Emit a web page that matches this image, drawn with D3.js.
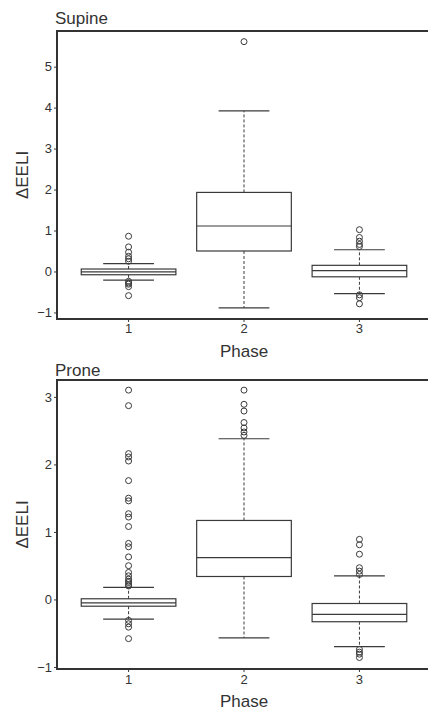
<!DOCTYPE html>
<html>
<head>
<meta charset="utf-8">
<script src="https://cdn.jsdelivr.net/npm/d3@7"></script>
<style>
  body { margin: 0; background: #fff; }
  text { font-family: "Liberation Sans", Arial, sans-serif; fill: #333; }
</style>
</head>
<body>
<svg id="chart" width="428" height="711"></svg>
<script>
const phases = ["1", "2", "3"];
const panelTitles = ["Supine", "Prone"];
const yTicksSupine = [-1, 0, 1, 2, 3, 4, 5];
const yTicksProne = [-1, 0, 1, 2, 3];

// [lowerWhisker, q1, median, q3, upperWhisker]
const supineStats = [
  [-0.21, -0.08, -0.01, 0.06, 0.19],
  [-0.89, 0.50, 1.11, 1.93, 3.92],
  [-0.54, -0.13, 0.02, 0.15, 0.53]
];
const supineOutliers = [
  [0.86, 0.60, 0.47, 0.37, 0.31, 0.25, -0.24, -0.28, -0.31, -0.37, -0.59],
  [5.61],
  [1.02, 0.83, 0.74, 0.66, 0.61, -0.57, -0.64, -0.79]
];
const proneStats = [
  [-0.29, -0.10, -0.05, 0.01, 0.18],
  [-0.57, 0.34, 0.62, 1.17, 2.38],
  [-0.70, -0.33, -0.22, -0.06, 0.35]
];
const proneOutliers = [
  [3.10, 2.87, 2.16, 2.11, 2.05, 1.76, 1.50, 1.46, 1.27, 1.22, 1.08,
   0.83, 0.78, 0.63, 0.50, 0.40, 0.35, 0.30, 0.27, 0.25, 0.22, 0.20,
   -0.31, -0.36, -0.41, -0.58],
  [3.10, 2.89, 2.79, 2.62, 2.54, 2.48, 2.43],
  [0.89, 0.81, 0.67, 0.47, 0.42, 0.37, -0.74, -0.78, -0.81, -0.86]
];

const svg = d3.select("#chart");
const frameLeft = 57, frameRight = 431;

const panels = [
  { title: panelTitles[0], stats: supineStats, outliers: supineOutliers, ticks: yTicksSupine,
    top: 31, bottom: 319, domain: [-1.16, 5.87], titleY: 24, tickLabelY: 333, phaseY: 357 },
  { title: panelTitles[1], stats: proneStats, outliers: proneOutliers, ticks: yTicksProne,
    top: 380, bottom: 669, domain: [-1.03, 3.25], titleY: 376, tickLabelY: 684, phaseY: 707 }
];

const x = d3.scaleLinear().domain([0.38, 3.62]).range([frameLeft, frameRight]);
const boxHalf = 0.41, capHalf = 0.22;
const ink = "#3a3a3a";

panels.forEach(p => {
  const y = d3.scaleLinear().domain(p.domain).range([p.bottom, p.top]);
  const g = svg.append("g");

  // y axis ticks
  const yAxis = d3.axisLeft(y).tickValues(p.ticks).tickSize(3).tickPadding(2).tickFormat(d3.format("d"));
  const ya = g.append("g").attr("transform", `translate(${frameLeft},0)`).call(yAxis);
  ya.select(".domain").remove();
  ya.selectAll("line").attr("stroke", ink).attr("stroke-width", 1);
  ya.selectAll("text").style("font-size", "13px").attr("fill", "#333");

  // x axis ticks
  g.selectAll(".xt").data(phases).join("line")
    .attr("x1", (d, i) => x(i + 1)).attr("x2", (d, i) => x(i + 1))
    .attr("y1", p.bottom).attr("y2", p.bottom + 3)
    .attr("stroke", ink).attr("stroke-width", 1);
  g.selectAll(".xl").data(phases).join("text")
    .attr("x", (d, i) => x(i + 1)).attr("y", p.tickLabelY)
    .attr("text-anchor", "middle").style("font-size", "13px").text(d => d);

  // labels
  g.append("text").attr("x", x(2)).attr("y", p.phaseY).attr("text-anchor", "middle")
    .style("font-size", "17px").text("Phase");
  g.append("text").attr("x", 55).attr("y", p.titleY).style("font-size", "17px").text(p.title);
  const cy = (p.top + p.bottom) / 2;
  g.append("text").attr("transform", `translate(28,${cy}) rotate(-90)`).attr("text-anchor", "middle")
    .style("font-size", "17px").text("ΔEELI");

  // boxes
  p.stats.forEach((s, i) => {
    const cx = x(i + 1);
    const [lw, q1, md, q3, uw] = s;
    // whiskers dashed
    g.append("line").attr("x1", cx).attr("x2", cx).attr("y1", y(q3)).attr("y2", y(uw))
      .attr("stroke", ink).attr("stroke-width", 1).attr("stroke-dasharray", "3,2");
    g.append("line").attr("x1", cx).attr("x2", cx).attr("y1", y(q1)).attr("y2", y(lw))
      .attr("stroke", ink).attr("stroke-width", 1).attr("stroke-dasharray", "3,2");
    // caps
    [lw, uw].forEach(v => {
      g.append("line").attr("x1", x(i + 1 - capHalf)).attr("x2", x(i + 1 + capHalf))
        .attr("y1", y(v)).attr("y2", y(v)).attr("stroke", ink).attr("stroke-width", 1.2);
    });
    // box
    g.append("rect").attr("x", x(i + 1 - boxHalf)).attr("width", x(i + 1 + boxHalf) - x(i + 1 - boxHalf))
      .attr("y", y(q3)).attr("height", y(q1) - y(q3))
      .attr("fill", "#fff").attr("stroke", ink).attr("stroke-width", 1.2);
    g.append("line").attr("x1", x(i + 1 - boxHalf)).attr("x2", x(i + 1 + boxHalf))
      .attr("y1", y(md)).attr("y2", y(md)).attr("stroke", ink).attr("stroke-width", 1.2);
    // outliers
    g.selectAll(null).data(p.outliers[i]).join("circle")
      .attr("cx", cx).attr("cy", d => y(d)).attr("r", 3)
      .attr("fill", "none").attr("stroke", ink).attr("stroke-width", 1);
  });

  // frame
  g.append("rect").attr("x", frameLeft).attr("y", p.top)
    .attr("width", frameRight - frameLeft).attr("height", p.bottom - p.top)
    .attr("fill", "none").attr("stroke", "#333").attr("stroke-width", 2);
});
</script>
</body>
</html>
